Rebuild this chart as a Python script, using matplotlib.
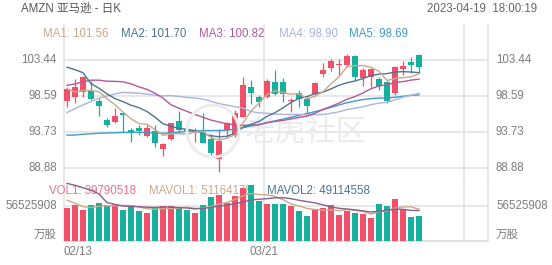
import matplotlib
matplotlib.use("Agg")
import matplotlib.pyplot as plt
from matplotlib.patches import Circle
from matplotlib.transforms import IdentityTransform, blended_transform_factory

# ---------------- data ----------------
date_labels = ["02/13", "03/21"]
date_label_idx = [0, 25]
extra_grid_idx = [50]

opens  = [97.87, 98.46, 99.13, 99.22, 97.87, 95.31, 95.04, 96.21, 93.92, 94.23,
          93.15, 93.78, 91.45, 92.75, 95.13, 94.05, 93.75, 93.65, 92.75, 90.01,
          93.96, 93.29, 95.76, 99.72, 98.37, 98.46, 100.39, 100.39, 97.87, 99.00,
          98.10, 98.77, 101.47, 102.28, 102.73, 102.73, 103.99, 100.93, 101.07, 100.84,
          100.39, 98.91, 102.14, 103.18, 104.08]
highs  = [99.80, 100.80, 101.29, 100.57, 98.23, 95.54, 96.97, 96.30, 94.19, 94.64,
          94.59, 94.64, 92.16, 94.95, 96.52, 94.86, 94.19, 96.21, 93.38, 94.05,
          95.09, 96.66, 101.07, 100.71, 98.68, 100.80, 102.05, 101.02, 98.23, 99.36,
          98.37, 100.48, 103.04, 103.49, 103.49, 104.21, 104.08, 102.28, 102.28, 101.16,
          100.62, 102.59, 103.31, 103.85, 104.21]
lows   = [97.11, 97.56, 98.46, 98.00, 95.85, 94.32, 94.86, 93.69, 92.39, 93.29,
          93.06, 91.62, 90.50, 92.61, 93.74, 92.84, 92.39, 92.16, 90.37, 88.25,
          93.06, 93.06, 95.67, 97.47, 97.11, 98.23, 98.68, 97.69, 96.43, 97.11,
          96.21, 98.55, 101.16, 101.96, 101.38, 102.41, 100.71, 99.94, 99.81, 99.36,
          97.65, 98.68, 101.38, 101.60, 101.60]
closes = [99.45, 99.72, 101.07, 98.19, 97.20, 94.64, 95.85, 95.99, 93.74, 93.87,
          94.23, 92.25, 92.07, 94.86, 93.96, 93.74, 93.85, 92.25, 90.82, 92.48,
          94.86, 96.30, 100.03, 99.00, 97.78, 100.62, 98.82, 98.82, 97.96, 98.10,
          97.20, 100.35, 102.05, 103.27, 102.78, 103.99, 101.16, 102.05, 102.14, 99.94,
          97.87, 102.50, 102.64, 102.73, 102.41]

ma1 = [99.50, 99.10, 99.30, 99.30, 99.13, 98.16, 97.39, 96.37, 95.48, 94.82,
       94.74, 94.02, 93.23, 93.46, 93.47, 93.38, 93.70, 93.73, 92.92, 92.63,
       92.85, 93.34, 94.90, 96.53, 97.59, 98.75, 99.25, 99.01, 98.80, 98.86,
       98.18, 98.49, 99.13, 100.19, 101.13, 102.49, 102.65, 102.65, 102.42, 101.86,
       100.63, 100.90, 101.02, 101.14, 101.56]
ma2 = [102.43, 102.09, 101.69, 100.21, 99.59, 98.83, 98.20, 97.78, 97.31, 96.97,
       96.45, 95.70, 94.80, 94.47, 94.15, 94.06, 93.86, 93.48, 93.19, 93.05,
       93.11, 93.52, 94.32, 94.73, 95.11, 95.80, 96.30, 96.95, 97.67, 98.23,
       98.46, 98.87, 99.07, 99.50, 100.00, 100.33, 100.57, 100.89, 101.31, 101.49,
       101.56, 101.78, 101.83, 101.78, 101.70]
ma3 = [99.99, 100.17, 100.45, 100.68, 100.68, 100.54, 100.52, 100.46, 100.19, 99.77,
       99.45, 98.91, 98.26, 97.36, 96.89, 96.47, 96.06, 95.67, 95.30, 95.04,
       94.81, 94.64, 94.59, 94.63, 94.66, 94.96, 95.11, 95.25, 95.46, 95.67,
       95.82, 96.23, 96.73, 97.15, 97.59, 98.10, 98.47, 98.96, 99.53, 99.90,
       100.05, 100.36, 100.49, 100.68, 100.82]
ma4 = [96.32, 96.84, 97.35, 97.79, 98.26, 98.55, 98.83, 99.03, 98.98, 98.93,
       98.80, 98.67, 98.56, 98.60, 98.49, 98.36, 98.28, 98.12, 97.84, 97.51,
       97.32, 97.09, 96.92, 96.46, 96.27, 96.22, 96.11, 96.07, 96.06, 96.08,
       96.00, 96.02, 96.05, 96.22, 96.41, 96.72, 96.90, 97.10, 97.38, 97.58,
       97.70, 98.04, 98.39, 98.65, 98.90]
ma5 = [93.27, 93.28, 93.39, 93.45, 93.53, 93.56, 93.59, 93.63, 93.63, 93.65,
       93.61, 93.56, 93.52, 93.59, 93.68, 93.77, 93.83, 93.88, 93.89, 93.89,
       93.94, 94.07, 94.27, 94.51, 94.72, 94.95, 95.20, 95.43, 95.68, 95.95,
       96.17, 96.44, 96.71, 97.01, 97.34, 97.64, 97.87, 98.07, 98.19, 98.27,
       98.27, 98.38, 98.50, 98.65, 98.69]

# volume in millions of shares
volumes = [53.9, 57.6, 49.6, 57.6, 62.0, 57.6, 59.8, 49.6, 57.6, 49.1,
           45.2, 53.9, 56.5, 56.5, 54.4, 50.2, 46.0, 57.6, 71.1, 73.8,
           62.0, 72.2, 86.0, 90.0, 64.6, 60.4, 59.3, 59.3, 56.5, 48.0,
           39.9, 50.7, 53.9, 57.6, 42.6, 49.0, 45.0, 43.5, 37.5, 60.4,
           56.0, 68.5, 52.3, 39.2, 39.79]
mavol1 = [66.0, 61.0, 55.4, 54.1, 56.1, 56.9, 57.3, 57.3, 57.3, 54.7,
          52.3, 51.1, 52.5, 52.2, 53.3, 54.3, 52.7, 52.9, 55.9, 59.7,
          62.1, 67.3, 73.0, 76.8, 75.0, 74.6, 72.1, 66.7, 60.0, 56.7,
          52.6, 50.9, 49.8, 50.0, 48.9, 50.8, 49.6, 47.5, 43.5, 47.1,
          48.5, 53.2, 54.9, 55.3, 51.16]
mavol2 = [93.0, 90.0, 86.0, 82.0, 76.0, 62.0, 59.2, 56.5, 55.8, 55.4,
          54.6, 54.2, 54.9, 54.8, 54.0, 53.3, 51.9, 52.7, 54.1, 56.5,
          58.2, 60.0, 63.0, 66.3, 67.4, 68.4, 69.7, 69.9, 68.4, 65.8,
          63.6, 61.5, 58.3, 55.0, 52.8, 51.7, 50.3, 48.7, 46.8, 48.0,
          49.6, 51.4, 51.2, 49.4, 49.11]

price_ticks = [88.88, 93.73, 98.59, 103.44]
vol_tick = 56.525908
vol_tick_label = "56525908"
vol_unit = "万股"

title = "AMZN 亚马逊 - 日K"
stamp = "2023-04-19  18:00:19"
ma_names = ["MA1", "MA2", "MA3", "MA4", "MA5"]
ma_last = ["101.56", "101.70", "100.82", "98.90", "98.69"]
vol_texts = ["VOL1: 39790518", "MAVOL1: 51164178", "MAVOL2: 49114558"]
watermark = "老虎社区"

# ---------------- style ----------------
UP, DOWN = "#f0506a", "#17b09c"
MA_COLORS = ["#c9a98c", "#4b7592", "#b3589a", "#aab4de", "#3e9dc8"]
VOL_TXT_COLORS = ["#f0708a", "#c9a98c", "#4b7592"]
GRID = "#e2e2e2"
TXT = "#7c7c7c"

W, H = 552, 265
fig = plt.figure(figsize=(W / 100, H / 100), dpi=100)
plt.rcParams['font.family'] = ["Liberation Sans", "Noto Sans CJK SC", "DejaVu Sans"]
FS = 8.3

def fx(px):
    return px / W

def fy(py):
    return 1 - py / H

L, R, T, MID, B = 64, 488, 25, 180, 241
ax_p = fig.add_axes([fx(L), fy(MID), fx(R) - fx(L), fy(T) - fy(MID)])
ax_v = fig.add_axes([fx(L), fy(B), fx(R) - fx(L), fy(MID) - fy(B)])

n = len(closes)
idx = list(range(n))
x0, x1 = -0.375, 52.625
for a in (ax_p, ax_v):
    a.set_xlim(x0, x1)
    for s in a.spines.values():
        s.set_visible(False)
    a.set_xticks([])
    a.set_yticks([])
    a.patch.set_alpha(0)
ax_p.set_ylim(87.22, 108.12)
ax_v.set_ylim(0, 98.52)

# grid
for v in price_ticks:
    ax_p.axhline(v, color=GRID, lw=1.1, zorder=0)
ax_v.axhline(vol_tick, color=GRID, lw=1.1, zorder=0)
ax_v.axhline(0, color="#d8d8d8", lw=1.1, zorder=0, clip_on=False)
vlines_at = [i - 0.375 for i in date_label_idx + extra_grid_idx] + [x1]
for a in (ax_p, ax_v):
    for xv in vlines_at:
        a.axvline(xv, color=GRID, lw=1.1, zorder=0, clip_on=False)

# watermark
ax_p.text(fx(306), fy(133), watermark, transform=fig.transFigure, ha="center",
          va="center", fontsize=22, color="#ebebeb", style="italic",
          family=["Noto Sans CJK SC"], zorder=0.5)
fig.patches.append(Circle((213, H - 131), 26, transform=IdentityTransform(),
                          fill=False, ec="#ececec", lw=2.2, zorder=0.5))

# candles
for i in idx:
    o, h, l, c = opens[i], highs[i], lows[i], closes[i]
    col = UP if c >= o else DOWN
    ax_p.vlines(i, l, h, color=col, lw=0.9, zorder=2)
    lo, hi = min(o, c), max(o, c)
    ax_p.bar(i, max(hi - lo, 0.13), bottom=lo, width=0.72, color=col,
             lw=0, zorder=3)

# moving averages
for arr, col in zip([ma5, ma4, ma3, ma2, ma1], MA_COLORS[::-1]):
    ax_p.plot(idx, arr, color=col, lw=1.0, zorder=4)

# volume
vcols = [UP if closes[i] >= opens[i] else DOWN for i in idx]
ax_v.bar(idx, volumes, width=0.72, color=vcols, lw=0, zorder=2)
ax_v.plot(idx, mavol1, color=MA_COLORS[0], lw=1.0, zorder=4)
ax_v.plot(idx, mavol2, color="#8a5f8a", lw=1.0, zorder=4)

# tick labels
tp = blended_transform_factory(fig.transFigure, ax_p.transData)
tv = blended_transform_factory(fig.transFigure, ax_v.transData)
for v in price_ticks:
    ax_p.text(fx(57), v, f"{v:.2f}", transform=tp, ha="right", va="center",
              fontsize=FS, color=TXT, clip_on=False)
    ax_p.text(fx(496), v, f"{v:.2f}", transform=tp, ha="left", va="center",
              fontsize=FS, color=TXT, clip_on=False)
for xx, ha in ((57, "right"), (496, "left")):
    ax_v.text(fx(xx), vol_tick, vol_tick_label, transform=tv, ha=ha,
              va="center", fontsize=FS, color=TXT, clip_on=False)
    fig.text(fx(xx), fy(235), vol_unit, ha=ha, va="center", fontsize=FS,
             color=TXT)

tx = blended_transform_factory(ax_v.transData, fig.transFigure)
for lab, i, ha in zip(date_labels, date_label_idx, ["left", "center"]):
    ax_v.text(i - 0.375, fy(252), lab, transform=tx, ha=ha, va="center",
              fontsize=FS, color=TXT, clip_on=False)

# header texts
fig.text(fx(21), fy(9), title, ha="left", va="center", fontsize=FS, color="#555555")
fig.text(fx(537), fy(9), stamp, ha="right", va="center", fontsize=FS, color="#666666")
ma_x = [43, 121, 199, 279, 349]
for name, val, col, xx in zip(ma_names, ma_last, MA_COLORS, ma_x):
    fig.text(fx(xx), fy(34), f"{name}: {val}", ha="left", va="center",
             fontsize=FS, color=col)

for t, col, xx in zip(vol_texts, VOL_TXT_COLORS, [49, 149, 267]):
    ax_v.text(fx(xx), fy(191), t, transform=fig.transFigure, ha="left",
              va="center", fontsize=FS, color=col, zorder=1, clip_on=False)

fig.savefig("out.png", dpi=100)
